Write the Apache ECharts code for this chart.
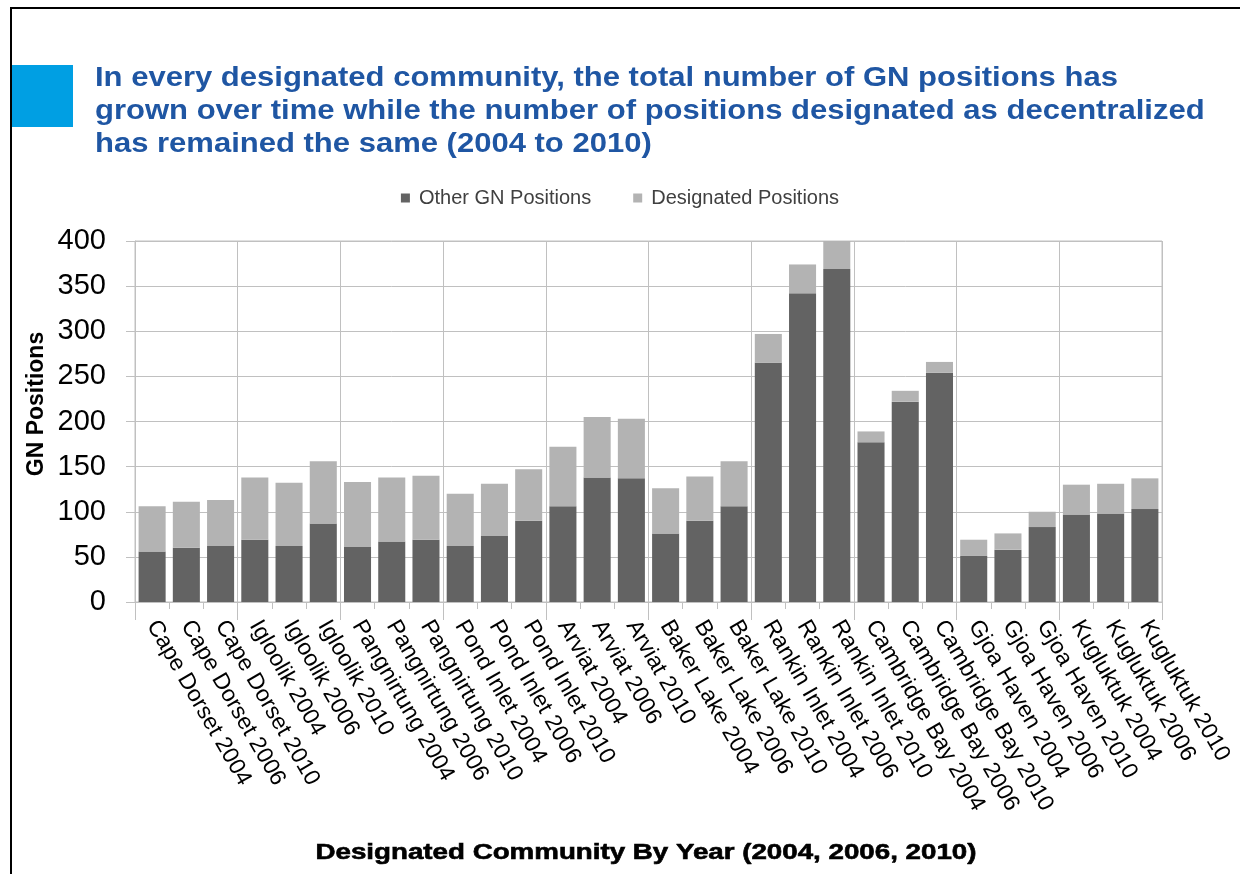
<!DOCTYPE html>
<html>
<head>
<meta charset="utf-8">
<script src="https://cdn.jsdelivr.net/npm/echarts@6/dist/echarts.min.js"></script>
<style>
html,body{margin:0;padding:0;background:#fff;}
#c{width:1240px;height:874px;}
</style>
</head>
<body>
<div id="c"></div>
<script>
const categories = [
  "Cape Dorset 2004","Cape Dorset 2006","Cape Dorset 2010",
  "Igloolik 2004","Igloolik 2006","Igloolik 2010",
  "Pangnirtung 2004","Pangnirtung 2006","Pangnirtung 2010",
  "Pond Inlet 2004","Pond Inlet 2006","Pond Inlet 2010",
  "Arviat 2004","Arviat 2006","Arviat 2010",
  "Baker Lake 2004","Baker Lake 2006","Baker Lake 2010",
  "Rankin Inlet 2004","Rankin Inlet 2006","Rankin Inlet 2010",
  "Cambridge Bay 2004","Cambridge Bay 2006","Cambridge Bay 2010",
  "Gjoa Haven 2004","Gjoa Haven 2006","Gjoa Haven 2010",
  "Kugluktuk 2004","Kugluktuk 2006","Kugluktuk 2010"
];
const otherGN = [56,60,62, 69,62,87, 61,67,69, 62,73,90, 106,138,137, 76,90,106, 265,342,369, 177,222,254, 51,58,83, 97,98,103];
const designated = [50,51,51, 69,70,69, 72,71,71, 58,58,57, 66,67,66, 50,49,50, 32,32,31, 12,12,12, 18,18,17, 33,33,34];
const yTicks = [0,50,100,150,200,250,300,350,400];
const seriesNames = ["Other GN Positions","Designated Positions"];
const titleLines = [
  "In every designated community, the total number of GN positions has",
  "grown over time while the number of positions designated as decentralized",
  "has remained the same (2004 to 2010)"
];
const xTitle = "Designated Community By Year (2004, 2006, 2010)";
const yTitle = "GN Positions";

const FONT = "'Liberation Sans', Arial, sans-serif";
const chart = echarts.init(document.getElementById('c'), null, {renderer:'canvas'});
const gridColor = '#c0c0c0';

const graphics = [
  {type:'line', shape:{x1:10,y1:8,x2:1240,y2:8}, style:{stroke:'#000',lineWidth:2}, silent:true},
  {type:'line', shape:{x1:11,y1:7,x2:11,y2:874}, style:{stroke:'#000',lineWidth:2}, silent:true},
  {type:'rect', shape:{x:12,y:65,width:61,height:62}, style:{fill:'#009fe3'}, silent:true}
];
titleLines.forEach((t,i)=>{
  graphics.push({type:'text', x:95, y:78+i*33, scaleX:1.12,
    style:{text:t, fill:'#1f56a3', font:'bold 27.7px '+FONT, align:'left', verticalAlign:'middle'}, silent:true});
});
graphics.push({type:'text', x:646, y:853, scaleX:1.26,
  style:{text:xTitle, fill:'#000', stroke:'#000', lineWidth:0.6, font:'bold 22px '+FONT, align:'center', verticalAlign:'middle'}, silent:true});
graphics.push({type:'text', x:37, y:404, rotation:Math.PI/2,
  style:{text:yTitle, fill:'#000', font:'bold 23px '+FONT, align:'center', verticalAlign:'middle'}, silent:true});

chart.setOption({
  animation:false,
  backgroundColor:'#fff',
  textStyle:{fontFamily:FONT},
  legend:{
    data:seriesNames, top:183, left:'center',
    itemWidth:9, itemHeight:9, itemGap:42, icon:'rect',
    textStyle:{fontSize:20, color:'#404040', fontFamily:FONT, padding:[0,0,0,4]}
  },
  grid:{left:135, right:78, top:241, bottom:272, show:true, borderColor:gridColor, borderWidth:1},
  xAxis:[{
    type:'category', data:categories, position:'bottom',
    axisLine:{lineStyle:{color:gridColor}},
    axisTick:{show:true, length:7, lineStyle:{color:gridColor}},
    axisLabel:{rotate:-60, fontSize:23, color:'#000', margin:20, interval:0, fontFamily:FONT},
    splitLine:{show:false}
  },{
    type:'category', data:categories, position:'bottom',
    axisLine:{show:false},
    axisTick:{show:true, length:18, interval:function(i){return i%3===0;}, lineStyle:{color:gridColor}},
    axisLabel:{show:false},
    splitLine:{show:true, interval:function(i){return i%3===0;}, lineStyle:{color:gridColor}}
  }],
  yAxis:{
    type:'value', min:yTicks[0], max:yTicks[yTicks.length-1], interval:yTicks[1]-yTicks[0],
    axisLine:{show:true, lineStyle:{color:gridColor}},
    axisTick:{show:true, length:9, lineStyle:{color:gridColor}},
    axisLabel:{fontSize:29, color:'#000', margin:29, fontFamily:FONT},
    splitLine:{show:true, lineStyle:{color:gridColor}}
  },
  series:[
    {name:seriesNames[0], type:'bar', stack:'t', data:otherGN, barCategoryGap:'21%', itemStyle:{color:'#636363'}},
    {name:seriesNames[1], type:'bar', stack:'t', data:designated, barCategoryGap:'21%', itemStyle:{color:'#b3b3b3'}}
  ],
  graphic:graphics
});
</script>
</body>
</html>
